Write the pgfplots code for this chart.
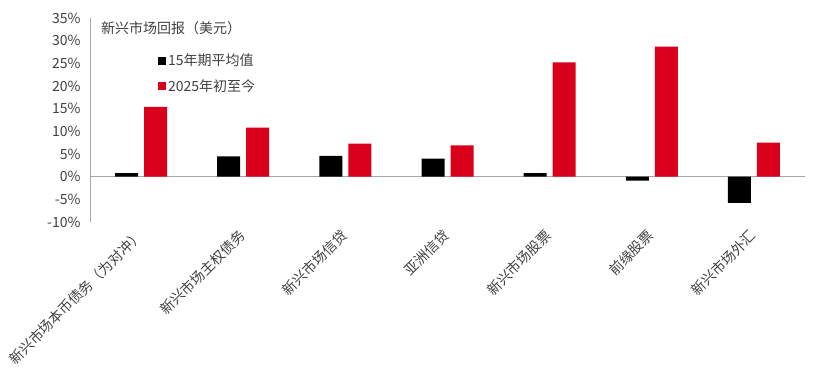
\documentclass[border=0pt]{standalone}
\usepackage{fontspec}
\setmainfont{Noto Sans CJK SC}
\usepackage{pgfplots}
\pgfplotsset{compat=1.18}
\definecolor{barred}{HTML}{D9001B}
\definecolor{axgray}{HTML}{A6A6A6}
\definecolor{txt}{HTML}{404040}

\begin{document}
\begin{tikzpicture}
\begin{axis}[
  scale only axis, width=715pt, height=204pt,
  xmin=-0.5, xmax=6.5, ymin=-10, ymax=35,
  ybar=6pt, bar width=23pt,
  axis lines=left,
  axis line style={-},
  x axis line style={draw=none},
  y axis line style={axgray, line width=0.9pt},
  xtick={0,...,6},
  xticklabels={新兴市场本币债务（为对冲）,新兴市场主权债务,新兴市场信贷,亚洲信贷,新兴市场股票,前缘股票,新兴市场外汇},
  ytick={-10,-5,...,35},
  yticklabel={\pgfmathprintnumber{\tick}\%},
  /pgf/number format/assume math mode=true,
  major tick length=0pt,
  tick label style={font=\fontsize{14}{16}\selectfont, text=txt},
  yticklabel style={xshift=-6pt},
  xticklabel style={yshift=-10pt, rotate=45, anchor=east, inner sep=1pt},
  legend style={at={(rel axis cs:0.095,0.835)}, anchor=north west, draw=none, fill=none,
    font=\fontsize{14}{16}\selectfont, text=txt, row sep=8pt, inner sep=0pt},
  legend cell align=left,
  legend image code/.code={\fill[#1] (0pt,-4pt) rectangle (8pt,4pt);},
]
\draw[axgray, line width=1pt] (axis cs:-0.5,0) -- (axis cs:6.5,0);
\addplot[fill=black, draw=none] coordinates {(0,0.8) (1,4.5) (2,4.6) (3,4.0) (4,0.8) (5,-0.9) (6,-5.8)};
\addplot[fill=barred, draw=none] coordinates {(0,15.4) (1,10.8) (2,7.3) (3,6.9) (4,25.2) (5,28.7) (6,7.5)};
\legend{15年期平均值, 2025年初至今}
\node[anchor=west, text=txt, font=\fontsize{14}{16}\selectfont, inner sep=0pt] at (rel axis cs:0.0154,0.951) {新兴市场回报（美元）};
\end{axis}
\pgfresetboundingbox
\path[use as bounding box] ([shift={(-90pt,-157pt)}]current axis.south west) rectangle ([shift={(732pt,222pt)}]current axis.south west);
\end{tikzpicture}
\end{document}
